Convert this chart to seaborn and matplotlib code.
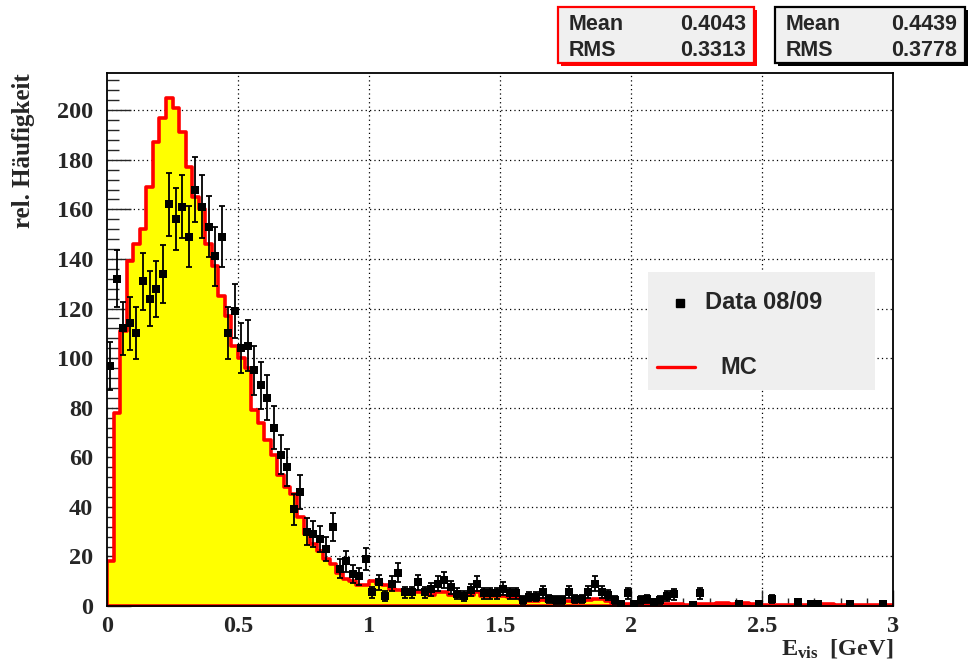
import numpy as np
import pandas as pd
import matplotlib
matplotlib.use("Agg")
import matplotlib.pyplot as plt
import seaborn as sns
from matplotlib.patches import Rectangle
from matplotlib.lines import Line2D
from matplotlib.ticker import MultipleLocator, FuncFormatter

# 120 bins of 25 MeV between 0 and 3 GeV
bin_width = 0.025
e_range = (0.0, 3.0)

mc_counts = [
    18, 78, 111, 139, 146, 152, 169, 187, 197, 205,
    201, 191, 177, 165, 160, 146, 137, 125, 117, 105,
    100, 96, 79, 74, 67, 61, 53, 48, 45, 36,
    29, 25, 22, 19, 17, 13.5, 11, 10, 8.5, 8.5,
    10, 9, 8.5, 7, 6.5, 6, 6, 5.5, 5.5, 4.5,
    5.5, 5.5, 4.5, 4.5, 4.5, 4.5, 5.5, 4, 4, 4,
    4, 3.5, 3.5, 2.5, 2, 2, 2.5, 2, 2, 2,
    2, 1.5, 2, 2.5, 3, 3, 2, 1.2, 1, 1,
    1, 1.2, 1, 1, 0.8, 0.8, 0.7, 0.7, 0.6, 0.6,
    0.7, 0.8, 0.9, 1.2, 1.1, 0.8, 1.3, 1.2, 0.8, 0.6,
    0.5, 0.6, 0.5, 0.6, 0.5, 0.6, 0.5, 0.6, 0.7, 0.8,
    0.7, 0.5, 0.4, 0.5, 0.4, 0.5, 0.6, 0.5, 0.4, 0.4,
]

nan = np.nan
data_counts = [
    96.8, 132, 112, 114, 110, 131, 124, 128, 134, 162,
    156, 161, 149, 168, 161, 153, 141, 149, 110, 119,
    104, 105, 95, 89, 84, 72, 61, 56, 39, 46,
    30, 29, 27, 23, 32, 15, 18, 13, 12, 19,
    5.5, 9.5, 4, 9, 13.5, 5.5, 5.5, 9.5, 5.5, 6.8,
    9, 10.5, 7.5, 5, 4, 6.5, 9, 5.1, 5.1, 5.1,
    7, 5.1, 5.1, 2.4, 3.8, 3.8, 5.8, 2.7, 2.4, 2.4,
    5.8, 2.7, 2.7, 5.8, 9, 5.8, 4.4, 2.4, 0.7, 5.1,
    0.7, 2.4, 2.7, 1.7, 2.4, 4.0, 4.8, nan, nan, 0.5,
    5.1, nan, nan, nan, nan, nan, 0.7, nan, nan, 0.7,
    nan, 2.7, nan, nan, nan, 1.7, nan, 0.7, 0.7, nan,
    nan, nan, nan, 0.7, nan, nan, nan, nan, 0.7, nan,
]

stat_labels = ["Mean", "RMS"]
mc_stats = ["0.4043", "0.3313"]
data_stats = ["0.4439", "0.3778"]

sns.set_style("ticks")
plt.rcParams["font.family"] = ["Liberation Serif", "DejaVu Sans"]
plt.rcParams["mathtext.fontset"] = "custom"
plt.rcParams["mathtext.rm"] = "Liberation Serif"
plt.rcParams["mathtext.bf"] = "Liberation Serif:bold"

W, H = 975, 667


def fx(px):
    return px / W


def fy(py):
    return 1 - py / H


n_bins = len(mc_counts)
centers = e_range[0] + bin_width * (np.arange(n_bins) + 0.5)
df = pd.DataFrame({"E": centers, "mc": mc_counts, "data": data_counts})

fig = plt.figure(figsize=(9.75, 6.67), dpi=100)
ax = fig.add_axes([fx(107), fy(606), (893 - 107) / W, (606 - 73) / H])

# dotted grid, below the histogram
for xv in [0.5, 1.0, 1.5, 2.0, 2.5]:
    ax.axvline(xv, color="black", lw=0.9, ls=(0, (1, 2.5)), zorder=0.5)
for yv in range(20, 215, 20):
    ax.axhline(yv, color="black", lw=0.9, ls=(0, (1, 2.5)), zorder=0.5)

# MC histogram
sns.histplot(data=df, x="E", weights="mc", binwidth=bin_width, binrange=e_range,
             element="step", fill=True, facecolor="#ffff00", edgecolor="#ff0000",
             linewidth=2.6, alpha=1, ax=ax)

# data with poisson errors
ax.errorbar(df["E"], df["data"], yerr=np.sqrt(df["data"]), fmt="none", ecolor="black",
            elinewidth=1.3, capsize=2.5, capthick=1.3, zorder=3)
sns.scatterplot(data=df, x="E", y="data", marker="s", s=40, color="black",
                edgecolor="black", linewidth=0, ax=ax, zorder=4)

ax.set_xlim(0, 3)
ax.set_ylim(0, 215)
ax.xaxis.set_major_locator(MultipleLocator(0.5))
ax.xaxis.set_minor_locator(MultipleLocator(0.1))
ax.yaxis.set_major_locator(MultipleLocator(20))
ax.yaxis.set_minor_locator(MultipleLocator(4))
ax.xaxis.set_major_formatter(FuncFormatter(lambda v, p: "%g" % v))

for sp in ax.spines.values():
    sp.set_visible(True)
    sp.set_linewidth(1.3)
    sp.set_color("black")

ax.tick_params(axis="y", which="major", direction="in", length=17, width=1, pad=10,
               left=True, right=False, labelsize=17.5)
ax.tick_params(axis="y", which="minor", direction="in", length=8.5, width=1,
               left=True, right=False)
ax.tick_params(axis="x", which="major", direction="in", length=11.5, width=1, pad=7,
               bottom=True, top=False, labelsize=17.5)
ax.tick_params(axis="x", which="minor", direction="in", length=5.8, width=1,
               bottom=True, top=False)
for lab in ax.get_xticklabels() + ax.get_yticklabels():
    lab.set_fontweight("bold")

ax.set_ylabel("rel. Häufigkeit", loc="top", fontsize=18, fontweight="bold")
ax.yaxis.set_label_coords(-0.092, 1.0)
ax.set_xlabel(r"$\mathbf{E_{vis}}$  [GeV]", loc="right", fontsize=17.5, fontweight="bold")
ax.xaxis.set_label_coords(1.0, -0.058)

# stat boxes
boxes = [(558, 754, "#ff0000", mc_stats), (775, 965, "black", data_stats)]
for left, right, col, vals in boxes:
    top, bottom = 7, 63
    shadow = Rectangle((fx(left + 3), fy(bottom + 3)), (right - left) / W, (bottom - top) / H,
                       transform=fig.transFigure, fc=col, ec=col, lw=0)
    fig.add_artist(shadow)
    box = Rectangle((fx(left), fy(bottom)), (right - left) / W, (bottom - top) / H,
                    transform=fig.transFigure, fc="#f0f0f0", ec=col, lw=1.6)
    fig.add_artist(box)
    for i, (name, val) in enumerate(zip(stat_labels, vals)):
        yb = [30, 56][i]
        fig.text(fx(left + 11), fy(yb), name, fontsize=15.5, fontweight="bold",
                 family="Liberation Sans", va="baseline", ha="left")
        fig.text(fx(right - 8), fy(yb), val, fontsize=15.5, fontweight="bold",
                 family="Liberation Sans", va="baseline", ha="right")

# legend
leg = Rectangle((fx(648), fy(390)), (875 - 648) / W, (390 - 272) / H,
                transform=fig.transFigure, fc="#efefef", ec="none")
fig.add_artist(leg)
fig.add_artist(Line2D([fx(680)], [fy(303)], marker="s", ms=6, color="black",
                      transform=fig.transFigure))
fig.text(fx(705), fy(303), "Data 08/09", fontsize=17, fontweight="bold",
         family="Liberation Sans", va="center", ha="left")
fig.add_artist(Line2D([fx(657), fx(695)], [fy(367), fy(367)], color="#ff0000", lw=2.4,
                      transform=fig.transFigure))
fig.text(fx(720), fy(367), "MC", fontsize=17, fontweight="bold",
         family="Liberation Sans", va="center", ha="left")

fig.savefig("out.png", dpi=100)
